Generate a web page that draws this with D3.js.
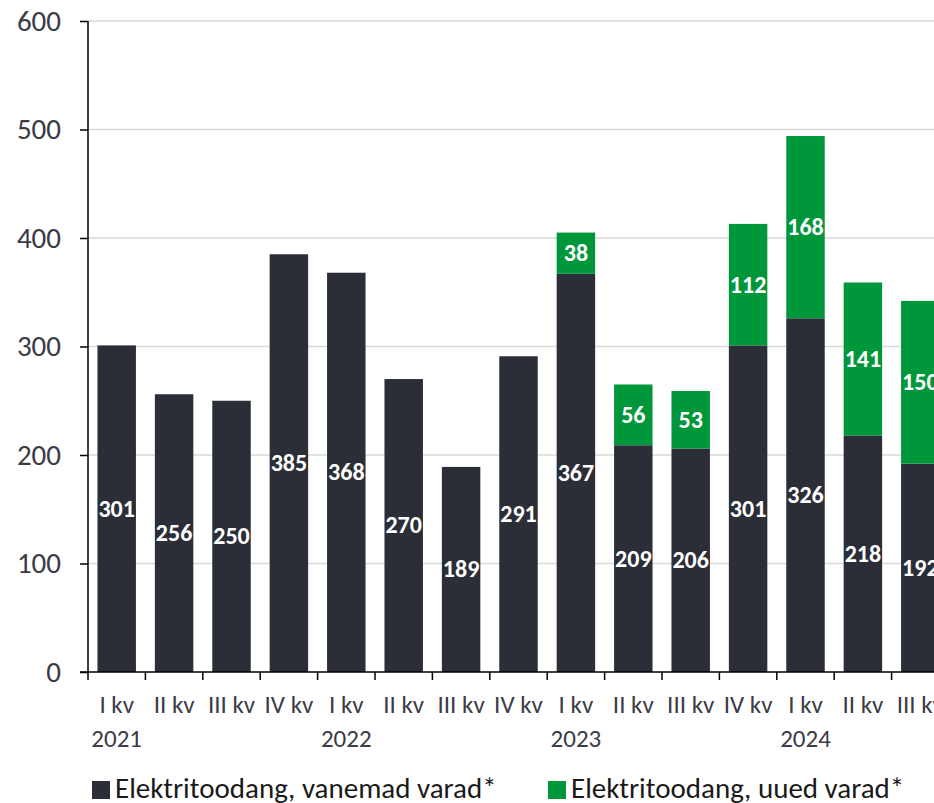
<!DOCTYPE html>
<html>
<head>
<meta charset="utf-8">
<title>Elektritoodang</title>
<script src="https://cdn.jsdelivr.net/npm/d3@7"></script>
<style>
    body { margin: 0; background: #fff; }
    svg { display: block; font-family: Carlito, Calibri, Lato, sans-serif; }
    .grid line { stroke: #d9d9d9; stroke-width: 1.5px; }
    .tick text { fill: #3b3b45; }
    .barlabel { fill: #fff; font-weight: bold; text-anchor: middle; }
</style>
</head>
<body>
<script>
    // quarters and years
    var quarters = ["I kv", "II kv", "III kv", "IV kv", "I kv", "II kv", "III kv", "IV kv",
                    "I kv", "II kv", "III kv", "IV kv", "I kv", "II kv", "III kv"];
    var years = ["2021", "", "", "", "2022", "", "", "", "2023", "", "", "", "2024", "", ""];
    // Elektritoodang, vanemad varad*
    var oldAssets = [301, 256, 250, 385, 368, 270, 189, 291, 367, 209, 206, 301, 326, 218, 192];
    // Elektritoodang, uued varad*
    var newAssets = [0, 0, 0, 0, 0, 0, 0, 0, 38, 56, 53, 112, 168, 141, 150];
    var yTicks = [0, 100, 200, 300, 400, 500, 600];
    var seriesNames = ["Elektritoodang, vanemad varad*", "Elektritoodang, uued varad*"];
    var colors = ["#2b2d37", "#00973a"];

    var width = 934, height = 803;
    var plotLeft = 88, plotTop = 21, plotBottom = 672;
    var step = 57.4;

    var svg = d3.select("body").append("svg")
        .attr("width", width)
        .attr("height", height);

    var idx = d3.range(quarters.length);

    var x = d3.scaleBand()
        .domain(idx)
        .range([plotLeft, plotLeft + step * idx.length])
        .paddingInner(0.33)
        .paddingOuter(0.165);

    var y = d3.scaleLinear()
        .domain([0, 600])
        .range([plotBottom, plotTop]);

    // gridlines
    svg.append("g")
        .attr("class", "grid")
        .selectAll("line")
        .data(yTicks.slice(1))
        .enter().append("line")
        .attr("x1", plotLeft)
        .attr("x2", width)
        .attr("y1", function (d) { return y(d); })
        .attr("y2", function (d) { return y(d); });

    var rows = idx.map(function (i) {
        return { i: i, old: oldAssets[i], neu: newAssets[i] };
    });

    // old assets
    svg.append("g").selectAll("rect")
        .data(rows)
        .enter().append("rect")
        .attr("x", function (d) { return x(d.i); })
        .attr("width", x.bandwidth())
        .attr("y", function (d) { return y(d.old); })
        .attr("height", function (d) { return y(0) - y(d.old); })
        .attr("fill", colors[0]);

    // new assets stacked on top
    svg.append("g").selectAll("rect")
        .data(rows.filter(function (d) { return d.neu > 0; }))
        .enter().append("rect")
        .attr("x", function (d) { return x(d.i); })
        .attr("width", x.bandwidth())
        .attr("y", function (d) { return y(d.old + d.neu); })
        .attr("height", function (d) { return y(d.old) - y(d.old + d.neu); })
        .attr("fill", colors[1]);

    // value labels
    svg.append("g").selectAll("text")
        .data(rows)
        .enter().append("text")
        .attr("class", "barlabel")
        .attr("font-size", 24)
        .attr("x", function (d) { return x(d.i) + x.bandwidth() / 2; })
        .attr("y", function (d) { return y(d.old / 2); })
        .attr("dy", "0.33em")
        .text(function (d) { return d.old; });

    svg.append("g").selectAll("text")
        .data(rows.filter(function (d) { return d.neu > 0; }))
        .enter().append("text")
        .attr("class", "barlabel")
        .attr("font-size", 24)
        .attr("x", function (d) { return x(d.i) + x.bandwidth() / 2; })
        .attr("y", function (d) { return y(d.old + d.neu / 2); })
        .attr("dy", "0.33em")
        .text(function (d) { return d.neu; });

    // y axis
    var yAxis = svg.append("g")
        .attr("transform", "translate(" + plotLeft + ",0)")
        .call(d3.axisLeft(y).tickValues(yTicks).tickSize(8).tickPadding(19))
        .attr("font-family", null)
        .attr("font-size", null);
    yAxis.selectAll("text").attr("font-size", 29);
    yAxis.selectAll("line, path").attr("stroke", "#000").attr("stroke-width", 1.5);
    yAxis.select(".domain").attr("d", "M0," + plotBottom + "V" + plotTop);

    // x axis: baseline, boundary ticks, two-line labels
    var xAxis = svg.append("g");
    xAxis.append("line")
        .attr("x1", plotLeft - 8).attr("x2", width)
        .attr("y1", plotBottom).attr("y2", plotBottom)
        .attr("stroke", "#000").attr("stroke-width", 1.5);

    var gap = (x.step() - x.bandwidth()) / 2;
    xAxis.selectAll(".xtick")
        .data(idx.concat([idx.length]))
        .enter().append("line")
        .attr("x1", function (i) { return i < idx.length ? x(i) - gap : x(idx.length - 1) + x.bandwidth() + gap; })
        .attr("x2", function (i) { return i < idx.length ? x(i) - gap : x(idx.length - 1) + x.bandwidth() + gap; })
        .attr("y1", plotBottom).attr("y2", plotBottom + 8)
        .attr("stroke", "#000").attr("stroke-width", 1.5);

    var lab = xAxis.selectAll(".xlab")
        .data(idx)
        .enter().append("text")
        .attr("text-anchor", "middle")
        .attr("fill", "#3b3b45")
        .attr("font-size", 25);
    lab.append("tspan")
        .attr("x", function (i) { return x(i) + x.bandwidth() / 2; })
        .attr("y", 713)
        .text(function (i) { return quarters[i]; });
    lab.append("tspan")
        .attr("x", function (i) { return x(i) + x.bandwidth() / 2; })
        .attr("y", 747)
        .text(function (i) { return years[i]; });

    // legend
    var legendX = [92, 548];
    var legend = svg.append("g").selectAll("g")
        .data(seriesNames)
        .enter().append("g")
        .attr("transform", function (d, i) { return "translate(" + legendX[i] + ",781)"; });
    legend.append("rect")
        .attr("width", 18).attr("height", 18)
        .attr("fill", function (d, i) { return colors[i]; });
    legend.append("text")
        .attr("x", 23).attr("y", 17)
        .attr("font-size", 29)
        .attr("fill", "#1a1a1a")
        .text(function (d) { return d; });
</script>
</body>
</html>
